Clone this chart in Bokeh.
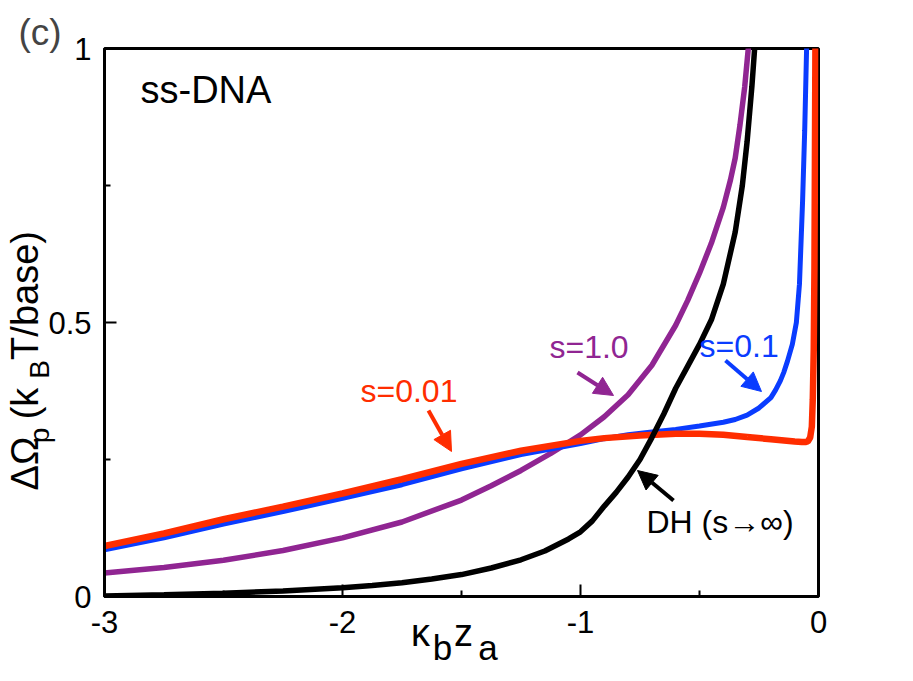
import math
from bokeh.plotting import figure
from bokeh.models import Range1d, FixedTicker, Label, Arrow, NormalHead, LinearAxis, Title
from bokeh.embed import file_html
from bokeh.resources import INLINE

# ---------------- data ----------------
x_dh = [-3.0, -2.75, -2.5, -2.25, -2.0, -1.875, -1.75, -1.625, -1.5, -1.375, -1.25, -1.15,
        -1.05, -1.0, -0.95, -0.9, -0.85, -0.8, -0.75, -0.7, -0.65, -0.6, -0.55, -0.5,
        -0.45, -0.4, -0.35, -0.32, -0.3, -0.28, -0.265, -0.25]
y_dh = [0.001, 0.003, 0.006, 0.010, 0.016, 0.020, 0.025, 0.032, 0.040, 0.052, 0.067, 0.083,
        0.105, 0.118, 0.138, 0.165, 0.190, 0.218, 0.250, 0.290, 0.333, 0.380, 0.420, 0.460,
        0.505, 0.570, 0.665, 0.750, 0.830, 0.930, 1.020, 1.120]

x_s1 = [-3.0, -2.75, -2.5, -2.25, -2.0, -1.75, -1.5, -1.375, -1.25, -1.125, -1.0, -0.9,
        -0.8, -0.7, -0.6, -0.55, -0.5, -0.45, -0.4, -0.37, -0.35, -0.33, -0.31, -0.295, -0.28]
y_s1 = [0.043, 0.053, 0.066, 0.084, 0.107, 0.136, 0.176, 0.202, 0.230, 0.261, 0.295, 0.328,
        0.368, 0.422, 0.495, 0.540, 0.590, 0.645, 0.710, 0.760, 0.800, 0.860, 0.930, 1.00, 1.08]

x_s01 = [-3.0, -2.75, -2.5, -2.25, -2.0, -1.75, -1.5, -1.25, -1.0, -0.9, -0.8, -0.7,
         -0.6, -0.5, -0.4, -0.35, -0.3, -0.25, -0.2, -0.18, -0.16, -0.145, -0.13, -0.11,
         -0.093, -0.08, -0.067, -0.058, -0.05, -0.045]
y_s01 = [0.085, 0.107, 0.132, 0.155, 0.179, 0.204, 0.233, 0.259, 0.279, 0.288, 0.295, 0.300,
         0.305, 0.311, 0.318, 0.323, 0.331, 0.344, 0.363, 0.377, 0.394, 0.410, 0.430, 0.460,
         0.500, 0.570, 0.720, 0.850, 1.00, 1.10]

x_s001 = [-3.0, -2.75, -2.5, -2.25, -2.0, -1.75, -1.5, -1.25, -1.0, -0.9, -0.75, -0.6,
          -0.5, -0.4, -0.3, -0.2, -0.1, -0.07, -0.055, -0.045, -0.035, -0.028, -0.024,
          -0.02, -0.017, -0.015, -0.012]
y_s001 = [0.092, 0.115, 0.141, 0.164, 0.188, 0.214, 0.242, 0.266, 0.284, 0.289, 0.294, 0.297,
          0.297, 0.295, 0.291, 0.287, 0.283, 0.282, 0.282, 0.283, 0.290, 0.310, 0.360,
          0.450, 0.600, 0.800, 1.10]

x_ticks = [-3, -2, -1, 0]
x_minor = [-2.5, -1.5, -0.5]
x_tick_labels = ["-3", "-2", "-1", "0"]
y_ticks = [0, 0.5, 1]
y_minor = [0.25, 0.75]
y_tick_labels = ["0", "0.5", "1"]

# ---------------- layout ----------------
FONT = "Liberation Sans"
RED = "#ff2d00"
BLUE = "#0a3cff"
PURPLE = "#902592"
BLACK = "#000000"

W, H = 897, 665
FX0, FX1, FY0, FY1 = 104, 818, 596, 48   # frame in figure pixels (left, right, bottom, top)

def px2x(px):
    return round(-3 + (px - FX0) / (FX1 - FX0) * 3, 4)

def py2y(py):
    return round((FY0 - py) / (FY0 - FY1), 4)

p = figure(width=W, height=H, frame_width=FX1 - FX0, frame_height=FY0 - FY1,
           min_border_left=FX0, min_border_top=FY1,
           min_border_right=W - FX1, min_border_bottom=H - FY0,
           x_range=Range1d(-3, 0), y_range=Range1d(0, 1),
           output_backend="svg", toolbar_location=None)

p.xgrid.visible = False
p.ygrid.visible = False
p.background_fill_color = "white"
p.border_fill_color = "white"
p.outline_line_color = "black"
p.outline_line_width = 3

p.xaxis.ticker = FixedTicker(ticks=x_ticks, minor_ticks=x_minor)
p.yaxis.ticker = FixedTicker(ticks=y_ticks, minor_ticks=y_minor)
p.xaxis.major_label_overrides = {t: l for t, l in zip(x_ticks, x_tick_labels)}
p.yaxis.major_label_overrides = {t: l for t, l in zip(y_ticks, y_tick_labels)}
for ax in (p.xaxis, p.yaxis):
    ax.axis_line_width = 3
    ax.axis_line_color = "black"
    ax.major_tick_in = 12
    ax.major_tick_out = 0
    ax.minor_tick_in = 6
    ax.minor_tick_out = 0
    ax.major_tick_line_width = 2
    ax.minor_tick_line_width = 2
    ax.major_label_text_font = FONT
    ax.major_label_text_font_size = "31px"
    ax.major_label_text_color = "black"
p.xaxis.major_label_standoff = 14
p.yaxis.major_label_standoff = 13

# ---------------- curves ----------------
p.line(x_s1, y_s1, line_color=PURPLE, line_width=5.5)
p.line(x_s01, y_s01, line_color=BLUE, line_width=5)
p.line(x_s001, y_s001, line_color=RED, line_width=6.5)
p.line(x_dh, y_dh, line_color=BLACK, line_width=5.5)

# ---------------- in-frame annotations ----------------
def add_label(text, px, py, color="black", size=32):
    p.add_layout(Label(x=px2x(px), y=py2y(py - 0.36 * size), text=text, text_color=color,
                       text_font=FONT, text_font_size=f"{size}px", text_align="left",
                       text_baseline="alphabetic"))

def add_arrow(color, tail, tip):
    p.add_layout(Arrow(end=NormalHead(size=19, fill_color=color, line_color=color, line_width=1),
                       x_start=px2x(tail[0]), y_start=py2y(tail[1]),
                       x_end=px2x(tip[0]), y_end=py2y(tip[1]),
                       line_color=color, line_width=4))

add_label("ss-DNA", 140, 103, size=38)
add_label("s=0.01", 360, 402, color=RED)
add_label("s=1.0", 549, 358, color=PURPLE)
add_label("s=0.1", 699, 357, color=BLUE)
add_label("DH (s\u2192\u221e)", 646, 533)

add_arrow(RED, (428, 410), (451, 451))
add_arrow(PURPLE, (577, 372), (613, 395))
add_arrow(BLUE, (725, 360), (761, 391))
add_arrow(BLACK, (673, 500), (637, 470))

# ---------------- texts outside the frame ----------------
# panel letter
p.add_layout(Title(text="(c)", align="left", offset=18 - FX0, standoff=-9,
                   text_font=FONT, text_font_size="37px", text_font_style="normal"), "above")

def carrier(side, ticks, labels, size, standoff, orientation="horizontal"):
    ax = LinearAxis(ticker=FixedTicker(ticks=ticks, minor_ticks=[]),
                    major_label_overrides={t: l for t, l in zip(ticks, labels)},
                    axis_line_color=None, major_tick_line_color=None, minor_tick_line_color=None,
                    major_tick_in=0, major_tick_out=0, minor_tick_in=0, minor_tick_out=0,
                    major_label_standoff=standoff, major_label_text_font=FONT,
                    major_label_text_font_size=size, major_label_text_color="black",
                    major_label_orientation=orientation)
    p.add_layout(ax, side)

# x-axis title: kappa_b z_a  (main glyphs row, then subscript row)
carrier("below", [px2x(420), px2x(463)], ["\u03ba", "z"], "38px", -24)
carrier("below", [px2x(442), px2x(487.5)], ["b", "a"], "35px", -29)

# y-axis title: Delta Omega_p (k_B T/base)  (subscript row nearer the axis, then main row)
carrier("left", [py2y(435), py2y(369)], ["p", "B"], "28px", -10, "parallel")
carrier("left", [py2y(463), py2y(403), py2y(295)], ["\u0394\u03a9", "(k", "T/base)"], "38px", -25, "parallel")

open("out.html", "w").write(file_html(p, INLINE))
